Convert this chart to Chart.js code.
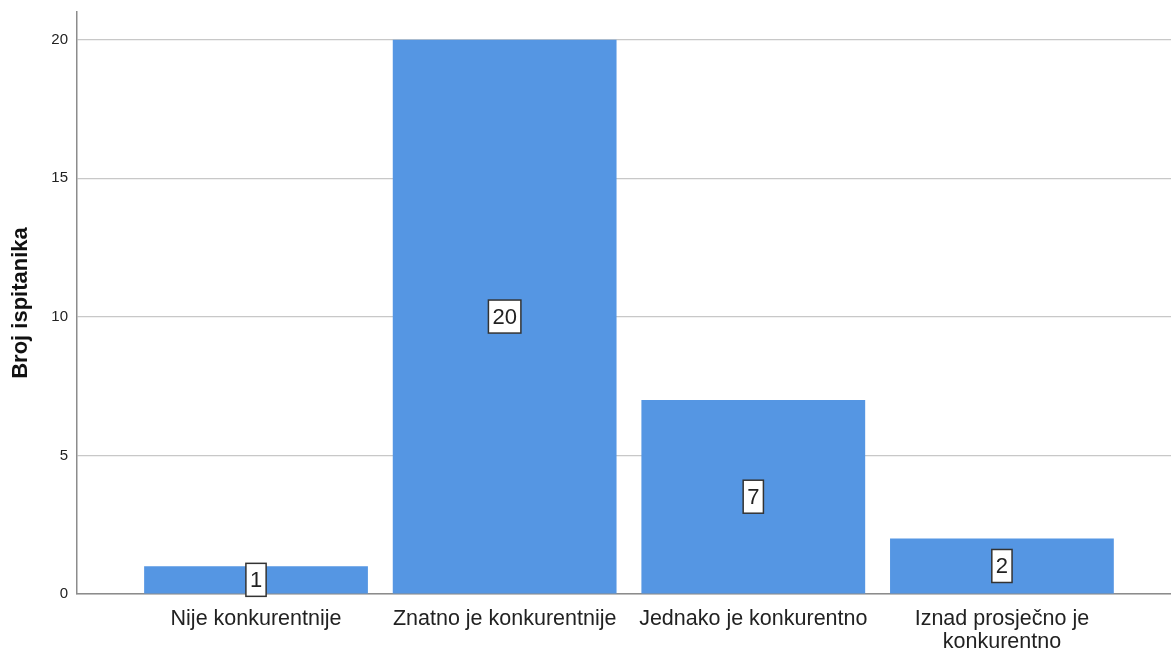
<!DOCTYPE html>
<html><head><meta charset="utf-8">
<script src="https://cdn.jsdelivr.net/npm/chart.js@4/dist/chart.umd.min.js"></script>
<style>html,body{margin:0;padding:0;background:#fff}#wrap{width:1171px;height:650px}</style>
</head><body><div id="wrap"><canvas id="c"></canvas></div>
<script>
const categories = ["Nije konkurentnije", "Znatno je konkurentnije", "Jednako je konkurentno", ["Iznad prosječno je", "konkurentno"]];
const counts = [1, 20, 7, 2];
const yTicks = [0, 5, 10, 15, 20];
const yTitle = "Broj ispitanika";

const points = counts.map((v, i) => ({x: i + 1, y: v}));

const labelPlugin = {
  id: 'boxLabels',
  afterDatasetsDraw(chart) {
    const ctx = chart.ctx;
    const meta = chart.getDatasetMeta(0);
    ctx.save();
    ctx.font = '22px "Liberation Sans", Arial, sans-serif';
    ctx.textAlign = 'center';
    ctx.textBaseline = 'middle';
    meta.data.forEach((bar, i) => {
      const txt = String(counts[i]);
      const cx = bar.x;
      const cy = (bar.y + bar.base) / 2;
      const w = ctx.measureText(txt).width + 8;
      const h = 33;
      ctx.fillStyle = '#fff';
      ctx.fillRect(cx - w / 2, cy - h / 2, w, h);
      ctx.strokeStyle = '#333';
      ctx.lineWidth = 1.5;
      ctx.strokeRect(cx - w / 2, cy - h / 2, w, h);
      ctx.fillStyle = '#222';
      ctx.fillText(txt, cx, cy + 1);
    });
    ctx.restore();
  }
};

new Chart(document.getElementById('c'), {
  type: 'bar',
  data: { datasets: [{ data: points, backgroundColor: '#5596e3', borderWidth: 0, categoryPercentage: 1, barPercentage: 0.9 }] },
  options: {
    responsive: true, maintainAspectRatio: false, animation: false,
    layout: { padding: { top: 12, right: 0, bottom: 0, left: 8 } },
    plugins: { legend: { display: false }, tooltip: { enabled: false } },
    scales: {
      x: {
        type: 'linear', min: 0.28, max: 4.68, offset: false,
        afterBuildTicks(s) { s.ticks = categories.map((c, i) => ({ value: i + 1 })); },
        afterFit(s) { s.height = 56; s.paddingLeft = 0; s.paddingRight = 0; },
        ticks: { callback: (v) => categories[Math.round(v) - 1], color: '#222', font: { size: 21.5, family: '"Liberation Sans", Arial, sans-serif', lineHeight: 1.1 }, padding: 13, maxRotation: 0, autoSkip: false },
        grid: { display: false, drawTicks: false },
        border: { display: true, color: '#8c8c8c', width: 1.5 }
      },
      y: {
        min: 0, max: 21,
        afterBuildTicks(s) { s.ticks = yTicks.map(v => ({ value: v })); },
        afterFit(s) { s.width = 69; s.paddingTop = 0; s.paddingBottom = 0; },
        ticks: { color: '#222', font: { size: 15, family: '"Liberation Sans", Arial, sans-serif' }, padding: 9 },
        grid: { color: '#c8c8c8', lineWidth: 1.2, drawTicks: false },
        border: { display: true, color: '#8c8c8c', width: 1.5 },
        title: { display: true, text: yTitle, color: '#111', font: { size: 22, weight: 'bold', family: '"Liberation Sans", Arial, sans-serif' }, padding: { top: 0, bottom: 0 } }
      }
    }
  },
  plugins: [labelPlugin]
});
</script></body></html>
